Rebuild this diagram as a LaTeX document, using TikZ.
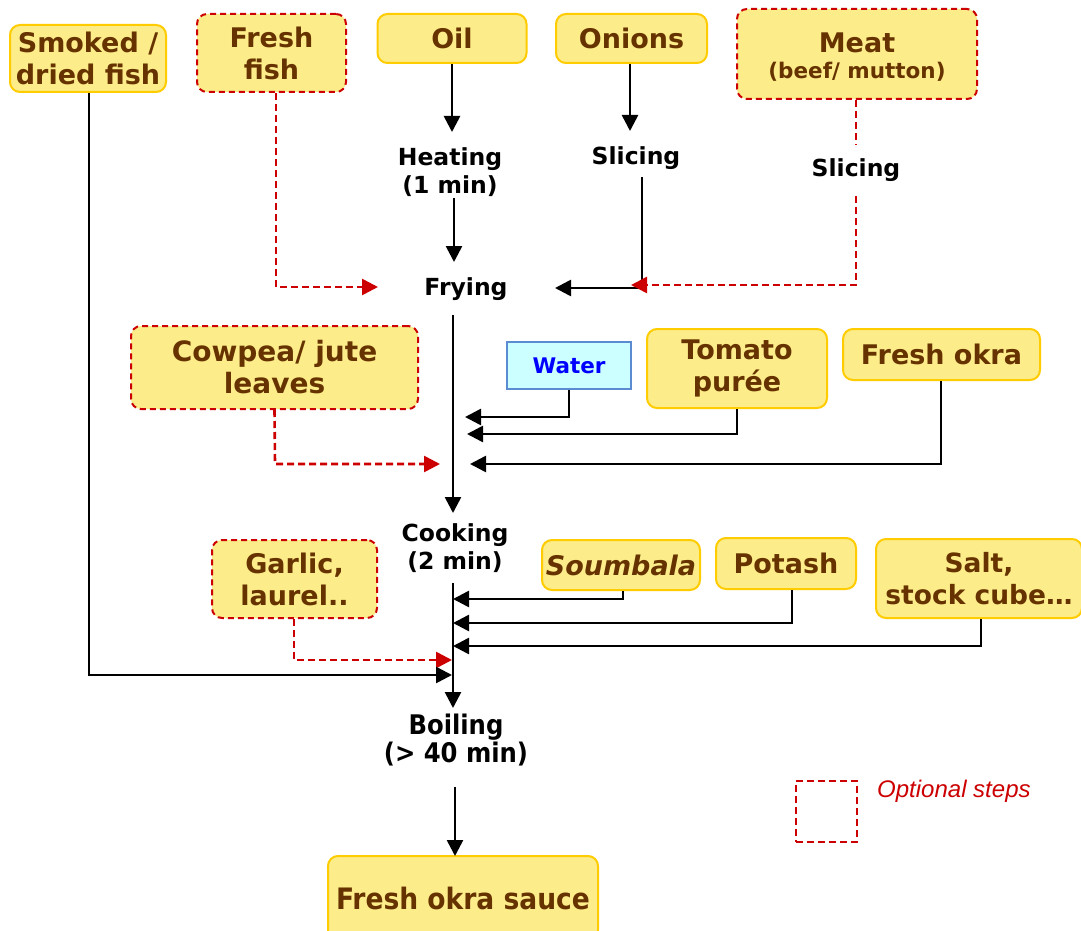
\documentclass[tikz,border=0pt]{standalone}
\usepackage{fontspec}
\setmainfont{DejaVu Sans}
\newfontfamily\condfont{DejaVu Sans Condensed}
\newfontfamily\legendfont{Liberation Sans}
\usetikzlibrary{arrows.meta}
\definecolor{boxfill}{HTML}{FCEC8A}
\definecolor{boxline}{HTML}{FFCC00}
\definecolor{boxtext}{HTML}{663300}
\definecolor{optred}{HTML}{CC0000}
\definecolor{waterfill}{HTML}{CCFFFF}
\definecolor{waterline}{HTML}{5B8BD0}
\definecolor{waterblue}{HTML}{0000FF}
\begin{document}
\begin{tikzpicture}[x=1pt,y=-1pt,
  box/.style={draw=boxline, fill=boxfill, rounded corners=10pt, line width=2pt,
    text=boxtext, font=\fontsize{27}{32}\selectfont\bfseries, align=center, inner sep=0pt},
  optbox/.style={box, draw=optred, dash pattern=on 6pt off 4pt},
  proc/.style={font=\fontsize{23.5}{28}\selectfont\bfseries, align=center, inner sep=0pt},
  link/.style={line width=2.6pt},
  arr/.style={link, -{Triangle[length=16pt,width=16pt]}},
  optlink/.style={line width=2.6pt, draw=optred, dash pattern=on 7pt off 4pt},
  optarr/.style={optlink, -{Triangle[length=16pt,width=16pt,fill=optred]}}
]
\clip (0,0) rectangle (1081,931);
\fill[white] (0,0) rectangle (1081,931);

% ingredient boxes
\node[box, minimum width=156, minimum height=67] (smoked) at (88,58.5) {Smoked /\\dried fish};
\node[optbox, minimum width=149, minimum height=78] (fish) at (271.5,53) {Fresh\\fish};
\node[box, minimum width=149, minimum height=49] (oil) at (452,38.5) {Oil};
\node[box, minimum width=151, minimum height=49] (onions) at (631.5,38.5) {Onions};
\node[optbox, minimum width=240, minimum height=90] (meat) at (857,54) {};
\node[text=boxtext, font=\fontsize{27}{32}\selectfont\bfseries, inner sep=0pt] (meatname) at (857,43) {Meat};
\node[text=boxtext, font=\fontsize{21.5}{26}\selectfont\bfseries, inner sep=0pt] (meatkind) at (857,72) {(beef/ mutton)};
\node[optbox, minimum width=287, minimum height=83, font=\fontsize{28}{32}\selectfont\bfseries]
  (cowpea) at (274.5,367.5) {Cowpea/ jute\\leaves};
\node[draw=waterline, fill=waterfill, line width=1.8pt, text=waterblue,
  font=\fontsize{21.5}{24}\selectfont\bfseries, minimum width=124, minimum height=47,
  inner sep=0pt] (water) at (569,365.5) {Water};
\node[box, minimum width=180, minimum height=79] (tomato) at (737,368.5) {Tomato\\purée};
\node[box, minimum width=197, minimum height=51] (okra) at (941.5,354.5) {Fresh okra};
\node[optbox, minimum width=165, minimum height=78] (garlic) at (294.5,579) {Garlic,\\laurel..};
\node[box, minimum width=158, minimum height=50] (soumbala) at (621,565) {\itshape Soumbala};
\node[box, minimum width=140, minimum height=51] (potash) at (786,563.5) {Potash};
\node[box, minimum width=206, minimum height=79, font=\fontsize{26.5}{32}\selectfont\bfseries]
  (salt) at (979,578.5) {Salt,\\stock cube…};
\node[box, minimum width=270, minimum height=84, font=\condfont\fontsize{29.5}{32}\selectfont\bfseries]
  (sauce) at (463,898) {Fresh okra sauce};

% process steps
\node[proc] (heating) at (450,172) {Heating\\(1 min)};
\node[proc] (slice1) at (636,158) {Slicing};
\node[proc] (slice2) at (856,170) {Slicing};
\node[proc] (frying) at (466,289) {Frying};
\node[proc] (cooking) at (455,548) {Cooking\\(2 min)};
\node[proc, font=\condfont\fontsize{27}{28}\selectfont\bfseries] (boiling) at (456,740) {Boiling\\(> 40 min)};

% joints and arrow ends
\coordinate (heatIn) at (452,132);
\coordinate (heatOut) at (454,198);
\coordinate (fryIn) at (454,262);
\coordinate (sliceIn) at (630,131);
\coordinate (sliceOut) at (642,177);
\coordinate (sliceJoin) at (642,288);
\coordinate (fryRight) at (555,288);
\coordinate (meatStop) at (856,145);
\coordinate (meatGo) at (856,196);
\coordinate (meatJoin) at (856,285);
\coordinate (meatTip) at (631,285);
\coordinate (fishJoin) at (276,287);
\coordinate (fishTip) at (378,287);
\coordinate (fryOut) at (453,315);
\coordinate (cookIn) at (453,513);
\coordinate (waterJoin) at (569,417);
\coordinate (waterTip) at (465,417);
\coordinate (tomatoJoin) at (737,434);
\coordinate (tomatoTip) at (467,434);
\coordinate (okraJoin) at (941,464);
\coordinate (okraTip) at (470,464);
\coordinate (cowpeaJoin) at (275,464);
\coordinate (cowpeaTip) at (440,464);
\coordinate (cookOut) at (453,583);
\coordinate (boilIn) at (453,708);
\coordinate (soumJoin) at (623,599);
\coordinate (soumTip) at (453,599);
\coordinate (potashJoin) at (792,623);
\coordinate (potashTip) at (453,623);
\coordinate (saltJoin) at (981,646);
\coordinate (saltTip) at (453,646);
\coordinate (garlicJoin) at (294,660);
\coordinate (garlicTip) at (452,660);
\coordinate (smokedJoin) at (89,675);
\coordinate (smokedTip) at (452,675);
\coordinate (boilOut) at (455,787);
\coordinate (sauceIn) at (455,856);

% main flow
\draw[arr] (oil.south) -- (heatIn);
\draw[arr] (heatOut) -- (fryIn);
\draw[arr] (onions.south -| sliceIn) -- (sliceIn);
\draw[link] (sliceOut) -- (sliceJoin);
\draw[arr] (sliceJoin) -- (fryRight);
\draw[optlink] (meat.south -| meatStop) -- (meatStop);
\draw[optarr] (meatGo) -- (meatJoin) -- (meatTip);
\draw[optarr] (fish.south -| fishJoin) -- (fishJoin) -- (fishTip);
\draw[arr] (fryOut) -- (cookIn);
\draw[arr] (water.south) -- (waterJoin) -- (waterTip);
\draw[arr] (tomato.south) -- (tomatoJoin) -- (tomatoTip);
\draw[arr] (okra.south -| okraJoin) -- (okraJoin) -- (okraTip);
\draw[optarr] (cowpea.south) -- (cowpeaJoin) -- (cowpeaTip);
\draw[arr] (cookOut) -- (boilIn);
\draw[arr] (soumbala.south -| soumJoin) -- (soumJoin) -- (soumTip);
\draw[arr] (potash.south -| potashJoin) -- (potashJoin) -- (potashTip);
\draw[arr] (salt.south -| saltJoin) -- (saltJoin) -- (saltTip);
\draw[optarr] (garlic.south -| garlicJoin) -- (garlicJoin) -- (garlicTip);
\draw[arr] (smoked.south -| smokedJoin) -- (smokedJoin) -- (smokedTip);
\draw[arr] (boilOut) -- (sauceIn);

% legend
\node[draw=optred, line width=2pt, dash pattern=on 7pt off 4pt, minimum width=61,
  minimum height=61, inner sep=0pt] (legbox) at (826.5,811.5) {};
\node[anchor=west, text=optred, font=\legendfont\fontsize{24}{26}\selectfont\itshape,
  inner sep=0pt] (legtext) at (877,791) {Optional steps};
\end{tikzpicture}
\end{document}
